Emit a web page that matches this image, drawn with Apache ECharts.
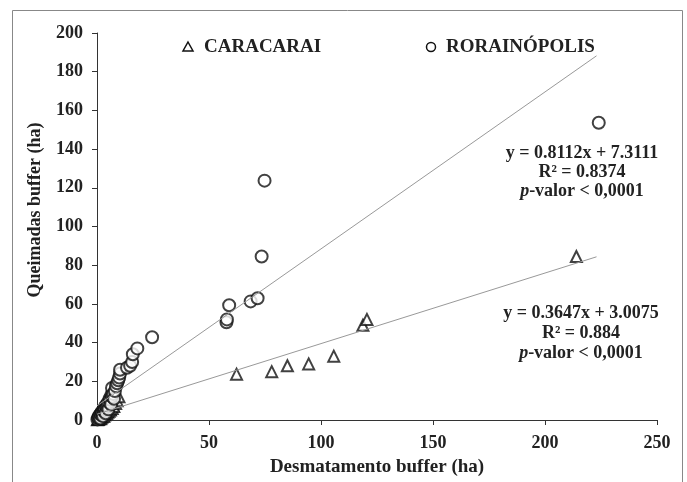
<!DOCTYPE html>
<html>
<head>
<meta charset="utf-8">
<script src="https://cdn.jsdelivr.net/npm/echarts@6/dist/echarts.min.js"></script>
<style>
  html, body { margin: 0; padding: 0; background: #fff; }
  #chart { width: 687px; height: 482px; }
</style>
</head>
<body>
<div id="chart"></div>
<script>
// Caracarai (triangulos)
const caracarai = [
  [0.2, 0.1], [0.4, 0.4], [0.7, 0.3], [1, 0.8], [1.2, 1.4], [1.5, 0.6], [1.8, 1],
  [2, 2], [2.2, 1.6], [2.6, 2.4], [3, 1.8], [3.2, 3], [3.4, 2.6], [3.8, 3.6],
  [4.3, 3.4], [4.6, 4.4], [4.8, 4], [5.4, 4.5], [5.8, 5.6], [6, 5.2],
  [6.8, 6], [7.2, 7.4], [7.5, 7], [8.3, 8.5], [9, 10], [9.8, 12],
  [62.3, 23.7], [78, 25], [85, 28], [94.5, 29], [105.7, 33],
  [118.7, 49], [120.5, 52], [214, 84.5]
]
// Rorainopolis (circulos)
const rorainopolis = [
  [0.2, 0.3], [0.5, 1.2], [0.7, 1], [1, 2.4], [1.1, 1.8], [1.5, 0.8], [1.6, 3.2],
  [1.9, 2.6], [2.1, 4.2], [2.3, 3.5], [2.7, 2], [2.8, 5.2], [3.1, 4.5],
  [3.3, 6.4], [3.5, 5.5], [3.9, 3.5], [4, 7.6], [4.3, 6.5], [4.7, 7.5],
  [4.8, 9], [5.1, 5.5], [5.5, 9], [5.6, 11], [5.9, 10.5], [6.3, 8],
  [6.4, 13], [6.7, 12], [6.7, 16.5], [7.2, 13.5], [7.6, 11], [8, 15],
  [8.5, 17.5], [9, 19], [9.5, 20.5], [9.9, 22],
  [10.3, 24], [10.3, 26], [13.4, 27], [14.8, 28], [15.7, 30], [16, 34],
  [18, 37], [24.6, 42.8],
  [57.8, 50.5], [58, 52], [59, 59.3], [68.6, 61.3], [71.7, 62.9],
  [73.5, 84.5], [74.8, 123.7], [224, 153.6]
]
// ajustes lineares: [inclinacao, intercepto]
const fitCaracarai = [0.3647, 3.0075]
const fitRorainopolis = [0.8112, 7.3111]
const fitXMax = 223
const xTicks = [0, 50, 100, 150, 200, 250]
const yTicks = [0, 20, 40, 60, 80, 100, 120, 140, 160, 180, 200]
const seriesNames = ['CARACARAI', 'RORAINÓPOLIS']

const serif = 'Liberation Serif'

function fitLine(fit) {
  return [[0, fit[1]], [fitXMax, fit[0] * fitXMax + fit[1]]]
}

const legendText = {
  fontFamily: serif, fontWeight: 'bold', fontSize: 19,
  fill: '#222', verticalAlign: 'middle'
}
const markStyle = { fill: '#fff', stroke: '#111', lineWidth: 1.5 }

const chart = echarts.init(document.getElementById('chart'))
chart.setOption({
  animation: false,
  backgroundColor: '#fff',
  textStyle: { fontFamily: serif },
  grid: { left: 97, right: 30, top: 33, bottom: 61 },
  xAxis: {
    type: 'value',
    min: xTicks[0],
    max: xTicks[xTicks.length - 1],
    interval: 50,
    name: 'Desmatamento buffer (ha)',
    nameLocation: 'middle',
    nameGap: 38,
    nameTextStyle: { fontFamily: serif, fontWeight: 'bold', fontSize: 19, color: '#222' },
    axisLine: { lineStyle: { color: '#333', width: 1 } },
    axisTick: { show: true, length: 5, lineStyle: { color: '#333' } },
    axisLabel: { fontFamily: serif, fontWeight: 'bold', fontSize: 18, color: '#222', margin: 14 },
    splitLine: { show: false }
  },
  yAxis: {
    type: 'value',
    min: yTicks[0],
    max: yTicks[yTicks.length - 1],
    interval: 20,
    axisLine: { show: true, lineStyle: { color: '#333', width: 1 } },
    axisTick: { show: true, length: 5, lineStyle: { color: '#333' } },
    axisLabel: { fontFamily: serif, fontWeight: 'bold', fontSize: 18, color: '#222', margin: 14 },
    splitLine: { show: false }
  },
  series: [
    {
      name: 'RORAINÓPOLIS-fit',
      type: 'line',
      data: fitLine(fitRorainopolis),
      symbol: 'none',
      silent: true,
      lineStyle: { color: '#999', width: 1 }
    },
    {
      name: 'CARACARAI-fit',
      type: 'line',
      data: fitLine(fitCaracarai),
      symbol: 'none',
      silent: true,
      lineStyle: { color: '#999', width: 1 }
    },
    {
      name: seriesNames[0],
      type: 'scatter',
      data: caracarai,
      symbol: 'triangle',
      symbolSize: 11,
      itemStyle: { color: '#fff', borderColor: '#111', borderWidth: 2 }
    },
    {
      name: seriesNames[1],
      type: 'scatter',
      data: rorainopolis,
      symbol: 'circle',
      symbolSize: 12,
      itemStyle: { color: '#fff', borderColor: '#111', borderWidth: 2 }
    }
  ],
  graphic: [
    {
      type: 'rect',
      shape: { x: 12.5, y: 10.5, width: 670, height: 500 },
      style: { fill: 'none', stroke: '#888', lineWidth: 1 },
      silent: true
    },
    // legenda
    {
      type: 'polygon',
      shape: { points: [[188, 42], [193, 51], [183, 51]] },
      style: markStyle
    },
    {
      type: 'text',
      x: 204,
      y: 47,
      style: Object.assign({ text: seriesNames[0] }, legendText)
    },
    {
      type: 'circle',
      shape: { cx: 431, cy: 47, r: 4.5 },
      style: markStyle
    },
    {
      type: 'text',
      x: 446,
      y: 47,
      style: Object.assign({ text: seriesNames[1] }, legendText)
    },
    {
      // titulo do eixo y
      type: 'text',
      x: 35,
      y: 210,
      rotation: Math.PI / 2,
      style: {
        text: 'Queimadas buffer (ha)',
        fontFamily: serif, fontWeight: 'bold', fontSize: 18,
        fill: '#222', align: 'center', verticalAlign: 'middle'
      }
    },
    {
      type: 'text',
      x: 582,
      y: 144,
      style: {
        text: 'y = 0.8112x + 7.3111\nR² = 0.8374\n{i|p}-valor < 0,0001',
        fontFamily: serif, fontWeight: 'bold', fontSize: 18, lineHeight: 19,
        fill: '#222', align: 'center',
        rich: { i: { fontStyle: 'italic', fontFamily: serif, fontWeight: 'bold', fontSize: 18 } }
      }
    },
    {
      type: 'text',
      x: 581,
      y: 303,
      style: {
        text: 'y = 0.3647x + 3.0075\nR² = 0.884\n{i|p}-valor < 0,0001',
        fontFamily: serif, fontWeight: 'bold', fontSize: 18, lineHeight: 20,
        fill: '#222', align: 'center',
        rich: { i: { fontStyle: 'italic', fontFamily: serif, fontWeight: 'bold', fontSize: 18 } }
      }
    }
  ]
})
</script>
</body>
</html>
